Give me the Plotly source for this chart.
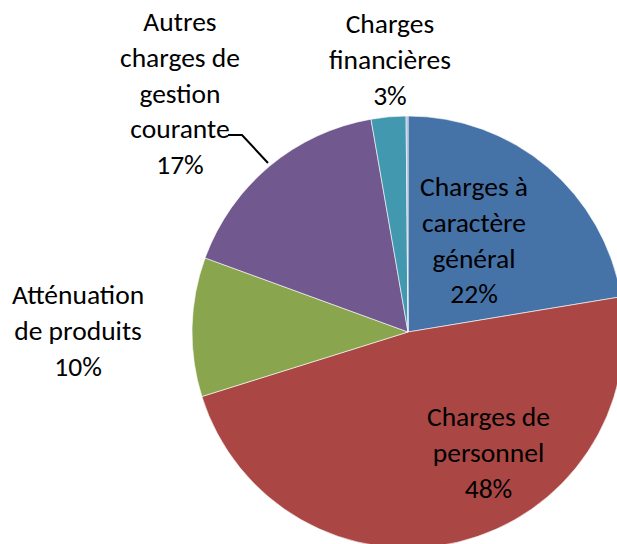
import plotly.graph_objects as go

# ---- data ----
categories = [
    "Charges à caractère général",
    "Charges de personnel",
    "Atténuation de produits",
    "Autres charges de gestion courante",
    "Charges financières",
    "Charges exceptionnelles",
]
values = [22.4, 47.8, 10.4, 16.7, 2.6, 0.14]
label_lines = [
    "Charges à<br>caractère<br>général",
    "Charges de<br>personnel",
    "Atténuation<br>de produits",
    "Autres<br>charges de<br>gestion<br>courante",
    "Charges<br>financières",
    "",
]
colors = ["#4572A7", "#AA4643", "#89A54E", "#71588F", "#4198AF", "#9CB0D6"]

W, H = 624, 548
total = sum(values)
pct = [f"{round(v / total * 100)}%" for v in values]

fig = go.Figure()
fig.add_trace(go.Pie(
    labels=categories,
    values=values,
    sort=False,
    direction="clockwise",
    rotation=0,
    textinfo="none",
    hoverinfo="label+percent",
    showlegend=False,
    marker=dict(colors=colors, line=dict(color="rgba(255,255,255,0.6)", width=1)),
    domain=dict(x=[192 / W, 1.0], y=[0.0, 432 / H]),
))

# label placement (pixel centres of each label block)
label_pos = [(474, 240), (488, 452), (78, 330), (180, 93), (390, 59), None]

def px(x):
    return x / W

def py(y):
    return 1 - y / H

for lines, p, pos in zip(label_lines, pct, label_pos):
    if pos is None:
        continue
    fig.add_annotation(
        x=px(pos[0]), y=py(pos[1]), xref="paper", yref="paper",
        text=f"{lines}<br>{p}", showarrow=False,
        font=dict(family="Carlito, Lato, Liberation Sans", size=27.5, color="#000000"),
        align="center", xanchor="center", yanchor="middle",
    )

# leader line for "Autres charges de gestion courante"
fig.add_shape(
    type="path", xref="paper", yref="paper",
    path=f"M {px(228)} {py(135)} L {px(242)} {py(135)} L {px(268)} {py(163)}",
    line=dict(color="#000000", width=2),
)

fig.update_layout(
    width=W, height=H,
    margin=dict(l=0, r=0, t=0, b=0),
    paper_bgcolor="#FFFFFF",
    plot_bgcolor="#FFFFFF",
)

fig.write_html(
    "out.html",
    config={"displayModeBar": False},
    post_script="document.documentElement.style.overflow='hidden';"
                "document.body.style.margin='0';"
                "document.body.style.overflow='hidden';",
)
